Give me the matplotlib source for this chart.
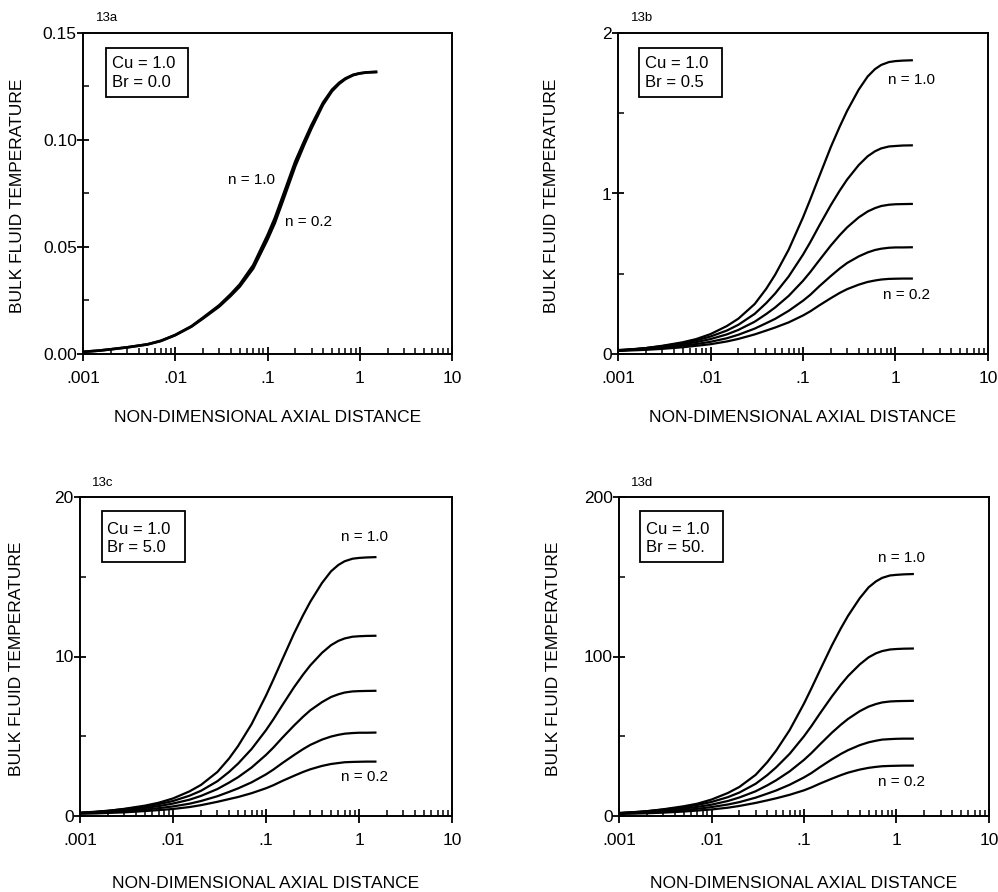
import matplotlib
matplotlib.use("Agg")
import matplotlib.pyplot as plt
from matplotlib.patches import Rectangle
from matplotlib.ticker import FixedLocator, NullFormatter, LogLocator

plt.rcParams['font.family'] = ['Liberation Sans', 'DejaVu Sans']

# ---------------- data ----------------
x_grid = [0.001, 0.0015, 0.002, 0.003, 0.005, 0.007, 0.01, 0.015, 0.02, 0.03,
          0.04, 0.05, 0.07, 0.1, 0.12, 0.15, 0.2, 0.25, 0.3, 0.4,
          0.5, 0.6, 0.7, 0.85, 1.0, 1.2, 1.5]

# 13a : Cu = 1.0, Br = 0.0
a_n10 = [0.001, 0.0016, 0.0022, 0.0031, 0.0045, 0.0062, 0.0089, 0.0130, 0.0170, 0.0228,
         0.0280, 0.0325, 0.0415, 0.0555, 0.0635, 0.0750, 0.0900, 0.0995, 0.1070, 0.1175,
         0.1235, 0.1268, 0.1288, 0.1305, 0.1312, 0.1316, 0.1318]
a_n02 = [0.001, 0.0016, 0.0022, 0.0031, 0.0045, 0.0061, 0.0088, 0.0128, 0.0166, 0.0222,
         0.0272, 0.0315, 0.0400, 0.0535, 0.0612, 0.0727, 0.0878, 0.0978, 0.1055, 0.1165,
         0.1228, 0.1263, 0.1285, 0.1303, 0.1311, 0.1316, 0.1318]

# 13b : Cu = 1.0, Br = 0.5  (n = 1.0, 0.8, 0.6, 0.4, 0.2)
b_n10 = [0.020, 0.029, 0.037, 0.051, 0.073, 0.093, 0.124, 0.174, 0.220, 0.311,
         0.406, 0.494, 0.650, 0.851, 0.964, 1.107, 1.290, 1.418, 1.515, 1.647,
         1.729, 1.775, 1.801, 1.819, 1.825, 1.828, 1.83]
b_n08 = [0.024, 0.031, 0.037, 0.049, 0.068, 0.085, 0.109, 0.146, 0.182, 0.250,
         0.317, 0.377, 0.483, 0.619, 0.697, 0.800, 0.928, 1.019, 1.087, 1.177,
         1.232, 1.263, 1.281, 1.293, 1.296, 1.299, 1.30]
b_n06 = [0.024, 0.030, 0.035, 0.045, 0.061, 0.074, 0.093, 0.122, 0.150, 0.201,
         0.249, 0.290, 0.362, 0.456, 0.511, 0.584, 0.676, 0.741, 0.789, 0.851,
         0.888, 0.909, 0.922, 0.930, 0.933, 0.934, 0.935]
b_n04 = [0.022, 0.027, 0.031, 0.039, 0.052, 0.062, 0.076, 0.098, 0.120, 0.158,
         0.192, 0.219, 0.269, 0.332, 0.369, 0.422, 0.486, 0.533, 0.567, 0.608,
         0.633, 0.648, 0.656, 0.662, 0.664, 0.664, 0.665]
b_n02 = [0.019, 0.023, 0.026, 0.032, 0.042, 0.051, 0.061, 0.078, 0.094, 0.122,
         0.146, 0.165, 0.197, 0.240, 0.266, 0.303, 0.348, 0.381, 0.404, 0.432,
         0.449, 0.458, 0.464, 0.468, 0.469, 0.470, 0.47]

# 13c : Cu = 1.0, Br = 5.0
c_n10 = [0.18, 0.26, 0.32, 0.45, 0.65, 0.83, 1.10, 1.54, 1.95, 2.76,
         3.60, 4.38, 5.76, 7.55, 8.55, 9.82, 11.44, 12.58, 13.44, 14.61,
         15.34, 15.74, 15.97, 16.13, 16.18, 16.21, 16.23]
c_n08 = [0.21, 0.27, 0.33, 0.43, 0.59, 0.74, 0.94, 1.27, 1.58, 2.18,
         2.76, 3.28, 4.20, 5.38, 6.06, 6.95, 8.07, 8.86, 9.45, 10.23,
         10.71, 10.98, 11.13, 11.24, 11.27, 11.29, 11.30]
c_n06 = [0.20, 0.25, 0.29, 0.38, 0.51, 0.62, 0.78, 1.02, 1.26, 1.69,
         2.09, 2.43, 3.04, 3.83, 4.29, 4.91, 5.67, 6.22, 6.63, 7.14,
         7.46, 7.63, 7.74, 7.81, 7.83, 7.84, 7.85]
c_n04 = [0.17, 0.21, 0.24, 0.30, 0.41, 0.49, 0.60, 0.77, 0.94, 1.24,
         1.51, 1.73, 2.11, 2.61, 2.91, 3.32, 3.82, 4.19, 4.46, 4.79,
         4.98, 5.09, 5.16, 5.20, 5.22, 5.22, 5.23]
c_n02 = [0.14, 0.16, 0.19, 0.23, 0.31, 0.37, 0.44, 0.56, 0.68, 0.89,
         1.06, 1.19, 1.43, 1.74, 1.93, 2.20, 2.52, 2.76, 2.93, 3.14,
         3.26, 3.32, 3.37, 3.39, 3.40, 3.41, 3.41]

# 13d : Cu = 1.0, Br = 50.
d_n10 = [1.7, 2.4, 3.0, 4.2, 6.1, 7.7, 10.3, 14.4, 18.2, 25.8,
         33.7, 41.0, 53.9, 70.5, 79.9, 91.8, 106.9, 117.6, 125.6, 136.5,
         143.4, 147.1, 149.3, 150.8, 151.2, 151.5, 151.7]
d_n08 = [1.9, 2.5, 3.0, 4.0, 5.5, 6.9, 8.8, 11.8, 14.7, 20.2,
         25.6, 30.5, 39.0, 50.0, 56.3, 64.6, 74.9, 82.3, 87.8, 95.0,
         99.5, 102.0, 103.4, 104.4, 104.7, 104.9, 105.0]
d_n06 = [1.8, 2.3, 2.7, 3.5, 4.7, 5.7, 7.1, 9.4, 11.6, 15.5,
         19.2, 22.4, 28.0, 35.2, 39.4, 45.1, 52.2, 57.2, 60.9, 65.7,
         68.6, 70.2, 71.2, 71.8, 72.0, 72.1, 72.2]
d_n04 = [1.6, 1.9, 2.2, 2.8, 3.8, 4.5, 5.6, 7.2, 8.7, 11.5,
         14.0, 16.0, 19.6, 24.2, 26.9, 30.8, 35.5, 38.9, 41.3, 44.4,
         46.2, 47.2, 47.9, 48.2, 48.4, 48.5, 48.5]
d_n02 = [1.3, 1.5, 1.7, 2.1, 2.8, 3.4, 4.1, 5.2, 6.3, 8.2,
         9.8, 11.1, 13.3, 16.1, 17.9, 20.4, 23.4, 25.6, 27.2, 29.1,
         30.2, 30.8, 31.2, 31.4, 31.5, 31.6, 31.6]

x_ticks = [0.001, 0.01, 0.1, 1, 10]
x_tick_labels = ['.001', '.01', '.1', '1', '10']

panel_names = ['13a', '13b', '13c', '13d']
box_lines = [['Cu = 1.0', 'Br = 0.0'], ['Cu = 1.0', 'Br = 0.5'],
             ['Cu = 1.0', 'Br = 5.0'], ['Cu = 1.0', 'Br = 50.']]
y_ticks = [[0.0, 0.05, 0.10, 0.15], [0, 1, 2], [0, 10, 20], [0, 100, 200]]
y_tick_labels = [['0.00', '0.05', '0.10', '0.15'], ['0', '1', '2'],
                 ['0', '10', '20'], ['0', '100', '200']]
y_minor = [[0.025, 0.075, 0.125], [0.5, 1.5], [5, 15], [50, 150]]
curves = [[a_n10, a_n02],
          [b_n10, b_n08, b_n06, b_n04, b_n02],
          [c_n10, c_n08, c_n06, c_n04, c_n02],
          [d_n10, d_n08, d_n06, d_n04, d_n02]]
n_labels = ['n = 1.0', 'n = 0.2']

# ---------------- layout (pixels) ----------------
W, H = 998, 892
fig = plt.figure(figsize=(W / 100, H / 100), dpi=100)
fig.patch.set_facecolor('white')

axes_px = [(83, 33, 452, 354), (618, 33, 988, 354),
           (80, 497, 452, 816), (619, 497, 989, 816)]
label_px = [(107, 18), (641.7, 18), (103, 482.7), (641.7, 482.7)]
box_px = [(106, 47.7, 188, 97.3), (639.3, 47.7, 721.7, 97.3),
          (101.7, 510.7, 185, 561.7), (640, 510.7, 722.7, 561.7)]
box_text_dy = [(15.6, 35), (15.6, 35), (18.3, 37.3), (18.3, 37.3)]
nlab_pos = [[(0.0675, 0.0813), (0.277, 0.0617)],
            [(1.50, 1.71), (1.32, 0.37)],
            [(1.16, 17.5), (1.16, 2.45)],
            [(1.14, 161.8), (1.14, 21.5)]]
ylab_x = [18, 551.7, 16.7, 553.3]
xlab_y = [418, 418, 883, 883]


def fx(px):
    return px / W


def fy(py):
    return 1 - py / H


for i in range(4):
    l, t, r, b = axes_px[i]
    ax = fig.add_axes([fx(l), fy(b), (r - l) / W, (b - t) / H])
    ax.set_xscale('log')
    for ys in curves[i]:
        ax.plot(x_grid, ys, color='black', lw=1.6 if i else 1.9,
                solid_joinstyle='round')
    ax.set_xlim(0.001, 10)
    ax.set_ylim(y_ticks[i][0], y_ticks[i][-1])

    ax.xaxis.set_major_locator(FixedLocator(x_ticks))
    ax.set_xticklabels(x_tick_labels)
    ax.xaxis.set_minor_locator(LogLocator(base=10, subs=range(2, 10)))
    ax.xaxis.set_minor_formatter(NullFormatter())
    ax.yaxis.set_major_locator(FixedLocator(y_ticks[i]))
    ax.set_yticklabels(y_tick_labels[i])
    ax.yaxis.set_minor_locator(FixedLocator(y_minor[i]))

    ax.tick_params(axis='x', which='major', direction='inout', length=10,
                   width=1.3, labelsize=12.5, pad=7)
    ax.tick_params(axis='x', which='minor', direction='in', length=4, width=1.1)
    ax.tick_params(axis='y', which='major', direction='inout', length=9,
                   width=1.3, labelsize=12.5, pad=0)
    ax.tick_params(axis='y', which='minor', direction='in', length=4, width=1.1)
    for sp in ax.spines.values():
        sp.set_linewidth(1.4)

    # panel number
    fig.text(fx(label_px[i][0]), fy(label_px[i][1]), panel_names[i],
             ha='center', va='center', fontsize=9.5)

    # parameter box
    bl, bt, br, bb = box_px[i]
    fig.patches.append(Rectangle((fx(bl), fy(bb)), (br - bl) / W, (bb - bt) / H,
                                 transform=fig.transFigure, fill=True,
                                 fc='white', ec='black', lw=1.3, zorder=5))
    for k, line in enumerate(box_lines[i]):
        fig.text(fx(bl + 5.5), fy(bt + box_text_dy[i][k]), line,
                 ha='left', va='center', fontsize=12, zorder=6)

    # n labels
    for k in range(2):
        px, py = nlab_pos[i][k]
        ax.text(px, py, n_labels[k], ha='center', va='center', fontsize=11)

    # axis titles
    fig.text(fx(ylab_x[i]), fy((t + b) / 2 + 2), 'BULK FLUID TEMPERATURE',
             rotation=90, ha='center', va='center', fontsize=12.5)
    fig.text(fx((l + r) / 2), fy(xlab_y[i]), 'NON-DIMENSIONAL AXIAL DISTANCE',
             ha='center', va='center', fontsize=12.5)

fig.savefig('out.png', dpi=100, facecolor='white')
